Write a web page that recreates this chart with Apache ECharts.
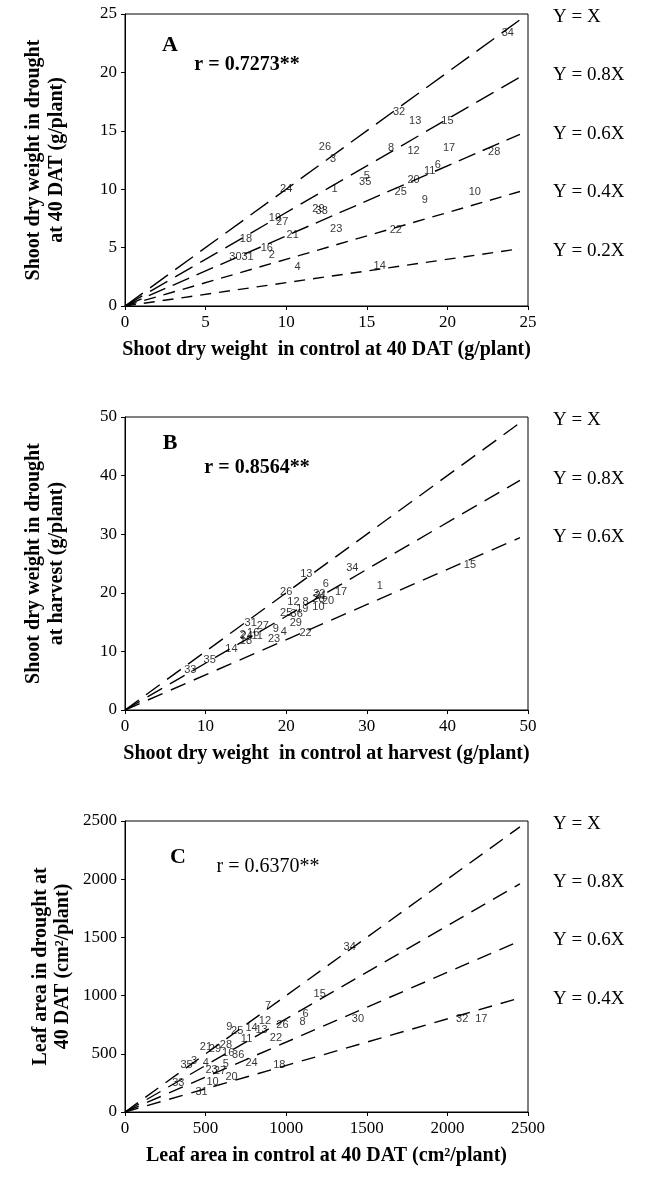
<!DOCTYPE html>
<html>
<head>
<meta charset="utf-8">
<script src="https://cdn.jsdelivr.net/npm/echarts@6/dist/echarts.min.js"></script>
<style>
  html, body { margin: 0; background: #fff; }
  #main { width: 649px; height: 1184px; }
</style>
</head>
<body>
<div id="main"></div>
<script>
// panel A - shoot dry weight at 40 DAT (g/plant)
const aNames   = ['34','32','13','15','26','3','8','12','17','28','6','11','5','35','20','24','1','25','9','10','29','33','19','27','23','21','22','18','16','2','30','31','4','14'];
const aControl = [23.75,17.0,18.0,20.0,12.4,12.9,16.5,17.9,20.1,22.9,19.4,18.9,15.0,14.9,17.9,10.0,13.0,17.1,18.6,21.7,12.0,12.2,9.3,9.75,13.1,10.4,16.8,7.5,8.8,9.1,6.85,7.6,10.7,15.8];
const aDrought = [23.4,16.6,15.8,15.8,13.6,12.55,13.5,13.3,13.5,13.2,12.1,11.6,11.1,10.6,10.8,10.0,10.0,9.8,9.1,9.8,8.3,8.1,7.5,7.2,6.6,6.1,6.5,5.7,5.0,4.4,4.2,4.2,3.3,3.4];

// panel B - shoot dry weight at harvest (g/plant)
const bNames   = ['13','26','12','8','25','36','19','10','31','27','2','24','16','11','18','9','4','23','22','29','14','35','33','34','6','32','21','28','20','17','1','15'];
const bControl = [22.5,20.0,20.9,22.4,20.0,21.3,22.0,24.0,15.6,17.1,14.6,15.1,15.9,16.4,15.0,18.7,19.7,18.5,22.4,21.2,13.2,10.5,8.1,28.2,24.9,24.1,24.3,24.0,25.2,26.8,31.6,42.8];
const bDrought = [23.2,20.1,18.4,18.4,16.6,16.4,17.2,17.6,14.9,14.3,12.8,12.6,13.1,12.6,11.8,13.9,13.4,12.1,13.2,14.8,10.5,8.5,6.9,24.3,21.5,19.8,19.4,18.9,18.6,20.1,21.2,24.7];

// panel C - leaf area at 40 DAT (cm2/plant)
const cNames   = ['34','15','7','6','8','26','12','13','14','25','9','11','22','21','29','28','16','36','24','18','3','35','4','5','23','27','10','20','33','31','30','32','17'];
const cControl = [1394,1208,888,1120,1101,977,868,847,785,696,647,754,936,502,558,626,640,702,785,957,428,382,502,626,537,589,543,661,331,475,1445,2092,2210];
const cDrought = [1415,1010,909,846,771,751,780,709,723,700,729,629,637,560,543,580,509,489,417,400,437,400,423,409,360,351,257,303,251,171,802,796,796];

const aSlopes = [1, 0.8, 0.6, 0.4, 0.2];
const bSlopes = [1, 0.8, 0.6];
const cSlopes = [1, 0.8, 0.6, 0.4];
const slopeNames = { 1: 'Y = X', 0.8: 'Y = 0.8X', 0.6: 'Y = 0.6X', 0.4: 'Y = 0.4X', 0.2: 'Y = 0.2X' };

const panels = [
  { names: aNames, xs: aControl, ys: aDrought, slopes: aSlopes, max: 25, interval: 5, lineEnd: 24.5,
    dashes: [[22, 9], [20, 9], [18, 8], [12, 8], [11, 8]],
    xTitle: 'Shoot dry weight  in control at 40 DAT (g/plant)',
    yTitle: ['Shoot dry weight in drought', 'at 40 DAT (g/plant)'], yTitleX: [34, 57],
    letter: 'A', letterPos: [170, 45], r: 'r = 0.7273**', rPos: [247, 65], rBold: true },
  { names: bNames, xs: bControl, ys: bDrought, slopes: bSlopes, max: 50, interval: 10, lineEnd: 49,
    dashes: [[17, 9], [17, 9], [16, 9]],
    xTitle: 'Shoot dry weight  in control at harvest (g/plant)',
    yTitle: ['Shoot dry weight in drought', 'at harvest (g/plant)'], yTitleX: [34, 57],
    letter: 'B', letterPos: [170, 443], r: 'r = 0.8564**', rPos: [257, 468], rBold: true },
  { names: cNames, xs: cControl, ys: cDrought, slopes: cSlopes, max: 2500, interval: 500, lineEnd: 2450,
    dashes: [[16, 9], [16, 9], [15, 9], [14, 9]],
    xTitle: 'Leaf area in control at 40 DAT (cm\u00b2/plant)',
    yTitle: ['Leaf area in drought at', '40 DAT (cm\u00b2/plant)'], yTitleX: [41, 63],
    letter: 'C', letterPos: [178, 857], r: 'r = 0.6370**', rPos: [268, 867], rBold: false }
];

const grids = [
  { left: 125, top: 14, width: 403, height: 292 },
  { left: 125, top: 417, width: 403, height: 293 },
  { left: 125, top: 821, width: 403, height: 291 }
];

const serif = 'Liberation Serif';
const xAxes = [], yAxes = [], series = [];

panels.forEach((p, i) => {
  grids[i].show = true;
  grids[i].borderColor = '#000';
  grids[i].borderWidth = 1;
  const axisBase = {
    gridIndex: i, type: 'value', min: 0, max: p.max, interval: p.interval,
    axisLine: { show: true, lineStyle: { color: '#000', width: 1 } },
    axisTick: { show: true, length: 4, lineStyle: { color: '#000' } },
    axisLabel: { color: '#000', fontFamily: serif, fontSize: 17, margin: 8, formatter: v => String(v) },
    splitLine: { show: false }
  };
  xAxes.push(Object.assign({}, axisBase, {
    name: p.xTitle, nameLocation: 'middle', nameGap: 34,
    nameTextStyle: { color: '#000', fontFamily: serif, fontWeight: 'bold', fontSize: 20 }
  }));
  yAxes.push(Object.assign({}, axisBase));

  p.slopes.forEach((s, k) => {
    series.push({
      type: 'line', xAxisIndex: i, yAxisIndex: i, silent: true,
      data: [[0, 0], [p.lineEnd, p.lineEnd * s]],
      symbol: 'none',
      lineStyle: { color: '#000', width: 1.4, type: p.dashes[k] }
    });
  });

  series.push({
    type: 'scatter', xAxisIndex: i, yAxisIndex: i,
    symbolSize: 1,
    itemStyle: { color: 'rgba(0,0,0,0)' },
    data: p.names.map((n, j) => ({ name: n, value: [p.xs[j], p.ys[j]] })),
    label: {
      show: true, position: 'inside', formatter: '{b}',
      color: '#000', fontFamily: 'Liberation Sans', fontSize: 11
    }
  });
});

const chart = echarts.init(document.getElementById('main'));
chart.setOption({
  animation: false,
  backgroundColor: '#fff',
  grid: grids,
  xAxis: xAxes,
  yAxis: yAxes,
  series: series
});

// annotations: titles, panel letters, r values, line names
const graphics = [];
panels.forEach((p, i) => {
  const midY = grids[i].top + grids[i].height / 2;
  p.yTitle.forEach((t, k) => {
    graphics.push({
      type: 'text', x: p.yTitleX[k], y: midY, rotation: Math.PI / 2,
      style: { text: t, fill: '#000', font: 'bold 20px "Liberation Serif"', align: 'center', verticalAlign: 'middle' }
    });
  });
  graphics.push({
    type: 'text', x: p.letterPos[0], y: p.letterPos[1],
    style: { text: p.letter, fill: '#000', font: 'bold 22px "Liberation Serif"', align: 'center', verticalAlign: 'middle' }
  });
  graphics.push({
    type: 'text', x: p.rPos[0], y: p.rPos[1],
    style: { text: p.r, fill: '#000', font: (p.rBold ? 'bold ' : '') + '20px "Liberation Serif"', align: 'center', verticalAlign: 'middle' }
  });
  p.slopes.forEach(s => {
    const py = chart.convertToPixel({ gridIndex: i }, [p.max, p.max * s])[1];
    graphics.push({
      type: 'text', x: 553, y: py + 3,
      style: { text: slopeNames[s], fill: '#000', font: '19px "Liberation Serif"', align: 'left', verticalAlign: 'middle' }
    });
  });
});
chart.setOption({ graphic: graphics });
</script>
</body>
</html>
